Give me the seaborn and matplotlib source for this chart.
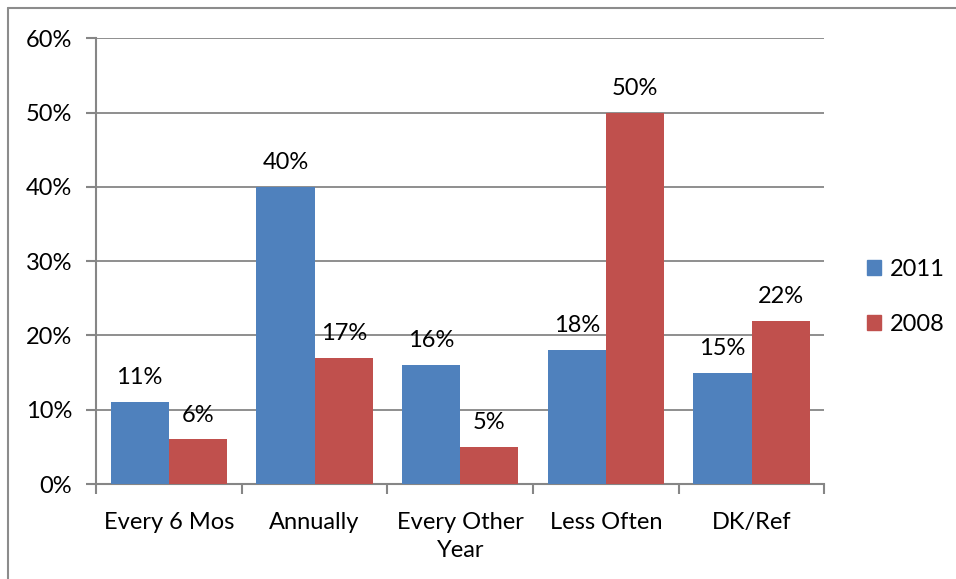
import numpy as np
import pandas as pd
import matplotlib
matplotlib.use("Agg")
import matplotlib.pyplot as plt
import seaborn as sns
from matplotlib.lines import Line2D
from matplotlib.ticker import PercentFormatter

sns.set_theme(style="white")
plt.rcParams['font.family'] = ['Lato', 'DejaVu Sans']
plt.rcParams['text.color'] = 'black'

# data
categories = ["Every 6 Mos", "Annually", "Every Other\nYear", "Less Often", "DK/Ref"]
years = ["2011", "2008"]
vals_2011 = [11, 40, 16, 18, 15]
vals_2008 = [6, 17, 5, 50, 22]

df = pd.DataFrame({
    "Frequency": categories * 2,
    "Share": vals_2011 + vals_2008,
    "Year": [years[0]] * 5 + [years[1]] * 5,
})

grid_c = "#868686"
fig = plt.figure(figsize=(9.56, 5.79), dpi=100)
ax = fig.add_axes([0.1004, 0.164, 0.762, 0.770])

sns.barplot(data=df, x="Frequency", y="Share", hue="Year", hue_order=years,
            palette=["#4F81BD", "#C0504D"], width=0.8, saturation=1,
            errorbar=None, ax=ax, zorder=3, linewidth=0)

ax.set_ylim(0, 60)
ax.set_yticks(np.arange(0, 61, 10))
ax.yaxis.set_major_formatter(PercentFormatter(decimals=0))
ax.set_xlim(-0.5, 4.5)
ax.grid(axis="y", color=grid_c, linewidth=1.3, zorder=0)
ax.set_axisbelow(True)
for s in ["top", "right"]:
    ax.spines[s].set_visible(False)
for s in ["left", "bottom"]:
    ax.spines[s].set_color(grid_c)
    ax.spines[s].set_linewidth(1.5)
ax.set_xlabel("")
ax.set_ylabel("")

# category boundary ticks on x, outward ticks on y
ax.set_xticks(np.arange(-0.5, 5, 1), minor=True)
ax.tick_params(axis="x", which="minor", length=7, width=1.5, color=grid_c, direction="out", bottom=True)
ax.tick_params(axis="x", which="major", length=0, labelsize=17, pad=20, labelcolor="black")
ax.tick_params(axis="y", length=7, width=1.5, color=grid_c, direction="out", left=True,
               labelsize=17, pad=10, labelcolor="black")
for lab in ax.get_xticklabels():
    lab.set_linespacing(1.45)

for cont in ax.containers:
    ax.bar_label(cont, labels=[f"{v:.0f}%" for v in cont.datavalues],
                 padding=10, fontsize=17, color="black")

ax.legend(handles=[plt.Rectangle((0, 0), 1, 1, color=c) for c in ["#4F81BD", "#C0504D"]],
          labels=years, loc="center left", bbox_to_anchor=(1.045, 0.42), frameon=False,
          fontsize=17, handlelength=0.6, handleheight=0.6, labelspacing=1.45, handletextpad=0.4,
          borderaxespad=0)

# outer chart border (top and left visible)
fig.add_artist(Line2D([8 / 956, 8 / 956], [0, 1 - 8 / 579], color="#8c8c8c", lw=1.5,
                      transform=fig.transFigure))
fig.add_artist(Line2D([8 / 956, 1], [1 - 8 / 579, 1 - 8 / 579], color="#8c8c8c", lw=1.5,
                      transform=fig.transFigure))

plt.savefig("out.png", dpi=100)
